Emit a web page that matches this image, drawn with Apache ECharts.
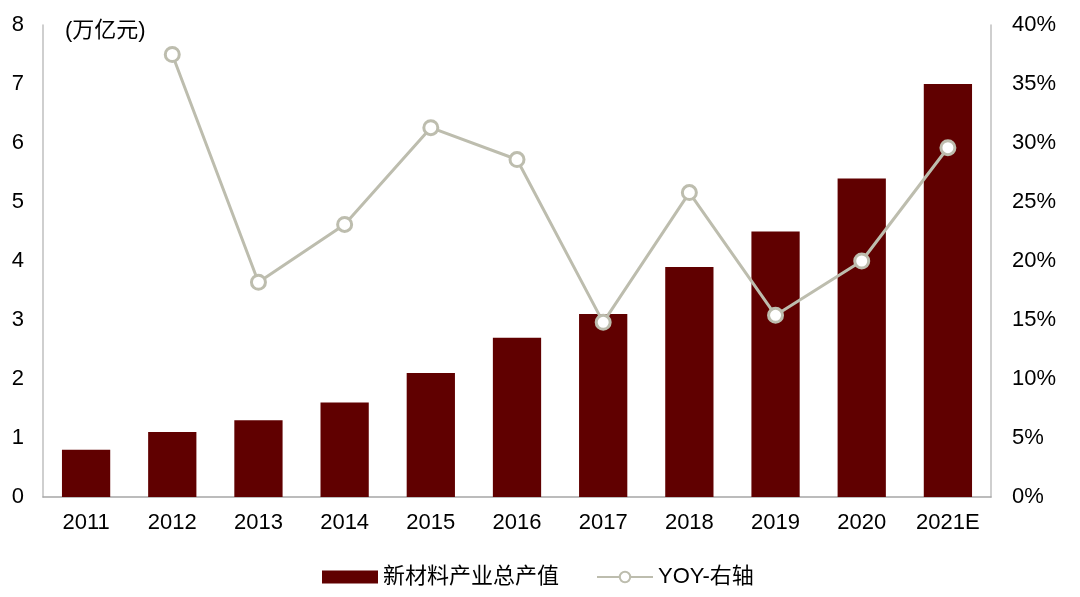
<!DOCTYPE html>
<html><head><meta charset="utf-8">
<script src="https://cdn.jsdelivr.net/npm/echarts@6/dist/echarts.min.js"></script>
<style>html,body{margin:0;padding:0;background:#fff}#c{width:1080px;height:597px}</style>
</head><body><div id="c"></div>
<script>
const categories = ['2011','2012','2013','2014','2015','2016','2017','2018','2019','2020','2021E'];
const outputValues = [0.8, 1.1, 1.3, 1.6, 2.1, 2.7, 3.1, 3.9, 4.5, 5.4, 7.0];
const yoyValues = [null, 37.5, 18.2, 23.1, 31.3, 28.6, 14.8, 25.8, 15.4, 20.0, 29.6];
const seriesNames = ['新材料产业总产值', 'YOY-右轴'];
const unitLabel = '(万亿元)';

const FONT = '"Liberation Sans", Arial, "Noto Sans CJK SC", sans-serif';
const chart = echarts.init(document.getElementById('c'));
chart.setOption({
  animation: false,
  textStyle: {fontFamily: FONT},
  grid: {left: 43, right: 89, top: 25, bottom: 100},
  graphic: [{type:'text', left: 65, top: 20, style:{text: unitLabel, font: '22px ' + FONT, fill:'#000'}}],
  legend: {
    top: 561, left: 317, itemWidth: 56, itemHeight: 13, itemGap: 37,
    textStyle: {fontSize: 22, color: '#000', fontFamily: FONT},
    data: [{name: seriesNames[0], icon: 'rect'}, {name: seriesNames[1]}]
  },
  xAxis: {
    type: 'category', data: categories,
    axisLine: {lineStyle: {color: '#a6a6a6', width: 1.5}},
    axisTick: {show: false},
    axisLabel: {fontSize: 22, color: '#000', margin: 15}
  },
  yAxis: [{
    type: 'value', min: 0, max: 8, interval: 1,
    axisLine: {show: true, lineStyle: {color: '#bfbfbf', width: 1.5}},
    axisTick: {show: false}, splitLine: {show: false},
    axisLabel: {fontSize: 22, color: '#000', margin: 19}
  }, {
    type: 'value', min: 0, max: 40, interval: 5, position: 'right',
    axisLine: {show: true, lineStyle: {color: '#bfbfbf', width: 1.5}},
    axisTick: {show: false}, splitLine: {show: false},
    axisLabel: {fontSize: 22, color: '#000', margin: 21, formatter: '{value}%'}
  }],
  series: [{
    name: seriesNames[0], type: 'bar', data: outputValues, barWidth: '56%',
    itemStyle: {color: '#600000'}
  }, {
    name: seriesNames[1], type: 'line', yAxisIndex: 1, data: yoyValues,
    symbol: 'circle', symbolSize: 14,
    lineStyle: {color: '#bdbdae', width: 3},
    itemStyle: {color: '#fff', borderColor: '#bdbdae', borderWidth: 3}
  }]
});
</script></body></html>
